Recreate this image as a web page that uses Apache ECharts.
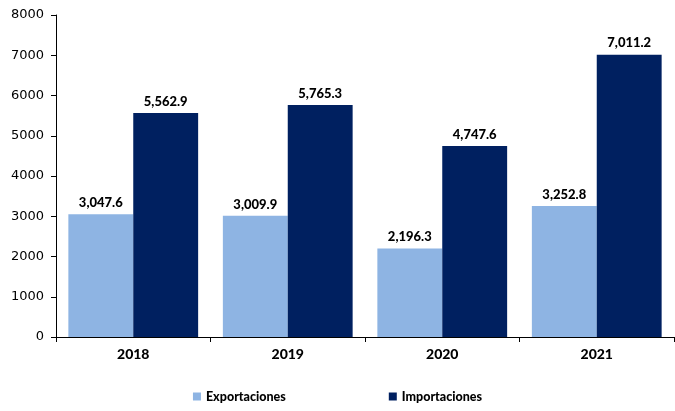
<!DOCTYPE html>
<html><head><meta charset="utf-8">
<script src="https://cdn.jsdelivr.net/npm/echarts@6/dist/echarts.min.js"></script>
<style>html,body{margin:0;padding:0;background:#fff}#c{width:675px;height:411px}</style>
</head><body><div id="c"></div>
<script>
const categories = ['2018', '2019', '2020', '2021'];
const exportaciones = [3047.6, 3009.9, 2196.3, 3252.8];
const importaciones = [5562.9, 5765.3, 4747.6, 7011.2];
const yTicks = [0, 1000, 2000, 3000, 4000, 5000, 6000, 7000, 8000];

const fmt = v => v.toLocaleString('en-US', {minimumFractionDigits: 1, maximumFractionDigits: 1});
const chart = echarts.init(document.getElementById('c'));
const labelStyle = {show: true, position: 'top', fontFamily: 'Lato', fontWeight: 900, fontSize: 13, color: '#000', distance: 5,
  formatter: p => fmt(p.value)};
chart.setOption({
  animation: false,
  grid: {left: 56, right: 1, top: 15, bottom: 74},
  legend: {
    bottom: 3, left: 'center', itemGap: 103, itemWidth: 8, itemHeight: 8, icon: 'rect',
    textStyle: {fontFamily: 'Lato', fontWeight: 900, fontSize: 12.5, color: '#000'},
    data: ['Exportaciones', 'Importaciones']
  },
  xAxis: {
    type: 'category', data: categories,
    axisLine: {lineStyle: {color: '#000'}},
    axisTick: {show: true, length: 5, lineStyle: {color: '#000'}},
    axisLabel: {fontFamily: 'Lato', fontWeight: 900, fontSize: 14, color: '#000', margin: 10}
  },
  yAxis: {
    type: 'value', min: yTicks[0], max: yTicks[yTicks.length - 1], interval: 1000,
    axisLine: {show: true, lineStyle: {color: '#000'}},
    axisTick: {show: true, length: 5, lineStyle: {color: '#000'}},
    splitLine: {show: false},
    axisLabel: {fontFamily: 'DejaVu Sans', fontSize: 13, color: '#000', margin: 12, formatter: v => String(v)}
  },
  series: [
    {name: 'Exportaciones', type: 'bar', data: exportaciones, barWidth: '42%', barGap: '0%',
     itemStyle: {color: '#8EB4E3'}, label: labelStyle},
    {name: 'Importaciones', type: 'bar', data: importaciones, barWidth: '42%', barGap: '0%',
     itemStyle: {color: '#002060'}, label: labelStyle}
  ]
});
</script></body></html>
